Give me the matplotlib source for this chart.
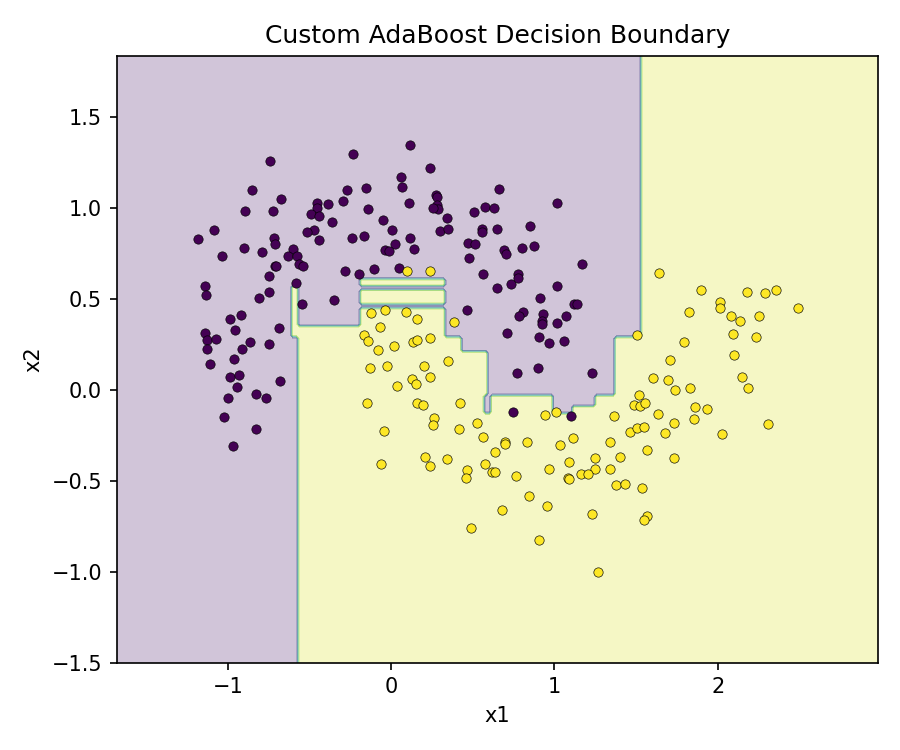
import numpy as np
import matplotlib
matplotlib.use("Agg")
import matplotlib.pyplot as plt

purple_x = [-0.74,-0.236,0.114,0.241,0.063,0.067,-0.851,-0.269,-0.153,0.277,0.279,0.658,-0.674,-0.454,-0.452,-0.389,-0.295,0.112,0.283,0.285,0.259,-0.894,-0.725,-0.493,-0.44,-0.14,0.507,0.573,0.63,-0.36,-0.047,0.342,0.302,0.349,0.006,0.559,0.559,0.648,-1.18,-1.082,-0.719,-0.709,-0.471,-0.517,-0.444,-0.238,-0.163,0.119,0.024,0.139,-0.039,-0.012,0.473,0.512,0.479,0.565,0.646,-0.9,-1.037,-0.79,-0.599,-0.63,-0.576,-0.713,-0.703,-0.564,-0.54,-0.748,-0.285,-0.196,-0.106,0.051,-0.583,-1.141,-1.133,-0.746,-0.807,-0.548,-0.352,0.465,-0.986,-0.917,-0.955,-0.688,-1.141,-1.128,-1.073,-1.127,-1.106,-0.864,-0.913,-0.749,-0.961,-0.988,-0.933,-0.943,-0.996,-0.825,-0.766,-0.682,-1.021,-0.829,-0.97,1.015,0.848,0.691,0.701,0.799,0.877,0.732,0.775,0.779,1.015,1.172,0.915,0.805,0.781,0.933,0.927,0.927,0.711,1.017,1.07,1.123,1.139,0.909,0.968,1.058,0.774,0.897,1.229,0.746,1.103]
purple_y = [1.259,1.297,1.345,1.22,1.17,1.113,1.099,1.099,1.106,1.069,1.06,1.105,1.047,1.025,1.0,1.02,1.035,1.025,1.013,0.994,1.0,0.98,0.98,0.967,0.954,0.994,0.976,1.002,0.996,0.921,0.932,0.941,0.871,0.884,0.877,0.881,0.866,0.881,0.829,0.875,0.831,0.8,0.877,0.866,0.822,0.833,0.844,0.835,0.798,0.774,0.767,0.761,0.805,0.798,0.726,0.635,0.56,0.78,0.732,0.758,0.774,0.736,0.734,0.681,0.679,0.693,0.682,0.626,0.653,0.638,0.662,0.668,0.585,0.571,0.519,0.534,0.502,0.473,0.495,0.439,0.391,0.409,0.33,0.341,0.312,0.274,0.277,0.226,0.139,0.262,0.222,0.249,0.171,0.072,0.083,0.013,-0.044,-0.026,-0.046,0.048,-0.149,-0.215,-0.312,1.027,0.901,0.767,0.743,0.78,0.789,0.582,0.635,0.613,0.569,0.688,0.505,0.428,0.406,0.417,0.376,0.362,0.31,0.369,0.406,0.47,0.47,0.292,0.255,0.266,0.09,0.119,0.09,-0.121,-0.147]

yellow_x = [0.096,0.238,-0.12,-0.039,0.092,0.157,0.387,-0.069,-0.165,-0.144,-0.083,0.021,0.137,0.157,0.237,0.347,-0.126,-0.026,0.2,0.238,0.131,0.151,0.035,-0.149,0.157,0.198,0.42,0.265,0.257,0.528,0.418,-0.045,0.562,0.695,0.699,0.831,0.944,1.009,1.117,1.033,0.638,0.206,0.34,0.238,-0.061,0.465,0.457,0.577,0.62,0.636,0.764,0.968,1.088,1.247,1.251,1.166,1.204,1.086,1.092,0.842,0.952,0.679,1.229,0.487,0.905,1.27,1.366,1.52,1.49,1.526,1.557,1.634,1.732,1.679,1.463,1.506,1.551,1.861,1.854,1.934,1.341,1.569,1.732,1.404,1.339,1.378,1.435,1.534,1.569,1.551,1.641,1.899,2.18,2.288,2.356,2.492,2.017,2.017,1.826,2.084,2.137,2.252,2.097,2.237,1.508,1.795,1.708,2.103,1.602,1.696,1.736,1.83,2.15,2.186,2.309,2.026]
yellow_y = [0.651,0.653,0.422,0.435,0.424,0.387,0.372,0.347,0.301,0.268,0.22,0.24,0.264,0.273,0.284,0.156,0.119,0.13,0.128,0.068,0.057,0.033,0.02,-0.073,-0.073,-0.084,-0.072,-0.158,-0.196,-0.185,-0.216,-0.229,-0.259,-0.286,-0.296,-0.29,-0.138,-0.121,-0.264,-0.306,-0.341,-0.37,-0.381,-0.42,-0.406,-0.439,-0.488,-0.411,-0.453,-0.45,-0.477,-0.435,-0.4,-0.374,-0.437,-0.461,-0.466,-0.486,-0.49,-0.583,-0.642,-0.66,-0.681,-0.761,-0.826,-1.0,-0.145,-0.028,-0.083,-0.088,-0.072,-0.134,-0.182,-0.237,-0.235,-0.213,-0.207,-0.095,-0.161,-0.105,-0.29,-0.334,-0.378,-0.37,-0.437,-0.525,-0.519,-0.538,-0.692,-0.715,0.642,0.546,0.539,0.53,0.546,0.45,0.484,0.451,0.429,0.406,0.376,0.407,0.308,0.29,0.303,0.264,0.165,0.189,0.066,0.051,0.0,0.009,0.068,0.011,-0.191,-0.246]

# Decision regions: class +1 below the top of each x-band
band_edges = [-0.605,-0.57,-0.19,0.33,0.43,0.585,0.62,0.985,1.105,1.245,1.37,1.53]
band_tops = [0.58,0.35,0.45,0.29,0.21,-0.127,-0.035,-0.125,-0.09,-0.03,0.287]
stem_bottom = 0.29
strip_x = (-0.19, 0.33)
strip_y = [(0.473, 0.545), (0.57, 0.605)]
notch_x = (0.565, 0.62)
notch_y = (-0.127, -0.035)

x_lim = (-1.68, 2.98)
y_lim = (-1.5, 1.835)

step = 0.02
xx, yy = np.meshgrid(np.arange(x_lim[0], x_lim[1] + step, step),
                     np.arange(y_lim[0], y_lim[1] + step, step))
Z = -np.ones_like(xx)
for i, top in enumerate(band_tops):
    mask = (xx >= band_edges[i]) & (xx < band_edges[i + 1]) & (yy < top)
    Z[mask] = 1
Z[(xx >= band_edges[0]) & (xx < band_edges[1]) & (yy < stem_bottom)] = -1
Z[xx >= band_edges[-1]] = 1
for lo, hi in strip_y:
    Z[(xx >= strip_x[0]) & (xx < strip_x[1]) & (yy >= lo) & (yy < hi)] = 1
Z[(xx >= notch_x[0]) & (xx < notch_x[1]) & (yy >= notch_y[0]) & (yy < notch_y[1])] = -1

fig, ax = plt.subplots(figsize=(6, 5), dpi=150)
fig.subplots_adjust(left=0.1297, right=0.9752, top=0.9257, bottom=0.1165)
ax.contourf(xx, yy, Z, alpha=0.25, cmap="viridis")
cmap = plt.get_cmap("viridis")
ax.scatter(purple_x, purple_y, s=20, color=cmap(0.0), edgecolors="k", linewidths=0.3)
ax.scatter(yellow_x, yellow_y, s=20, color=cmap(1.0), edgecolors="k", linewidths=0.3)
ax.set_xlim(*x_lim)
ax.set_ylim(*y_lim)
ax.set_xticks([-1, 0, 1, 2])
ax.set_yticks([-1.5, -1.0, -0.5, 0.0, 0.5, 1.0, 1.5])
ax.set_xlabel("x1")
ax.set_ylabel("x2")
ax.set_title("Custom AdaBoost Decision Boundary")
fig.savefig("out.png", dpi=150)
